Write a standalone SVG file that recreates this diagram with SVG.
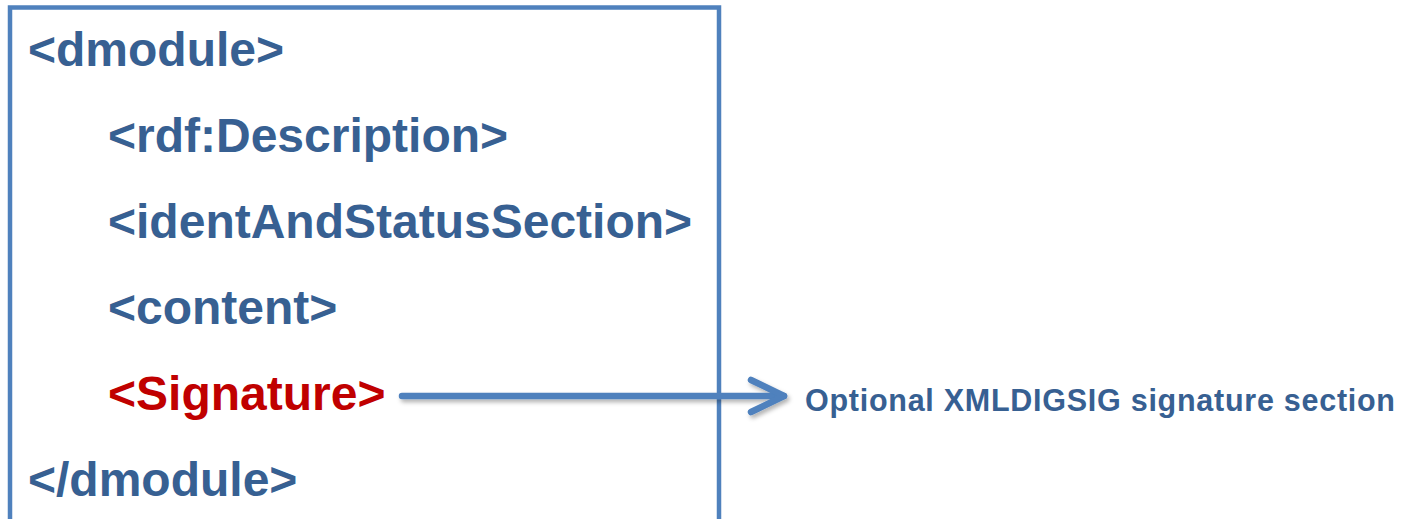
<svg xmlns="http://www.w3.org/2000/svg" width="1408" height="519" viewBox="0 0 1408 519">
  <style>
    .tag { font-family: "Liberation Sans", Arial, sans-serif; font-weight: bold; font-size: 48px; fill: #376092; }
    .sig { fill: #C00000; }
    .note { font-family: "Liberation Sans", Arial, sans-serif; font-weight: bold; font-size: 30.5px; fill: #376092; }
    .frame { fill: #FFFFFF; stroke: #4F81BD; stroke-width: 4.5; }
    .conn { fill: none; stroke: #4F81BD; stroke-width: 6.5; stroke-linecap: round; stroke-linejoin: round; }
  </style>
  <defs>
    <filter id="shadow" filterUnits="userSpaceOnUse" x="380" y="360" width="440" height="70">
      <feDropShadow dx="2" dy="3" stdDeviation="2" flood-color="#000000" flood-opacity="0.3"/>
    </filter>
    <marker id="chevron" markerUnits="userSpaceOnUse" markerWidth="50" markerHeight="50" refX="40" refY="25" orient="auto">
      <path d="M7 9 L40 25 L7 41" fill="none" stroke="#4F81BD" stroke-width="6.5" stroke-linecap="round" stroke-linejoin="round"/>
    </marker>
  </defs>

  <rect width="1408" height="519" fill="#FFFFFF"/>

  <!-- document frame -->
  <g id="dmodule-frame">
    <rect class="frame" x="10" y="7.5" width="709" height="530"/>
  </g>

  <!-- element tree -->
  <g id="dmodule-open"><text class="tag" x="28" y="66">&lt;dmodule&gt;</text></g>
  <g id="rdf-description"><text class="tag" x="108" y="152">&lt;rdf:Description&gt;</text></g>
  <g id="ident-status"><text class="tag" x="108" y="238">&lt;identAndStatusSection&gt;</text></g>
  <g id="content"><text class="tag" x="108" y="324">&lt;content&gt;</text></g>
  <g id="signature"><text class="tag sig" x="108" y="410">&lt;Signature&gt;</text></g>
  <g id="dmodule-close"><text class="tag" x="28" y="496">&lt;/dmodule&gt;</text></g>

  <!-- annotation -->
  <g id="signature-note"><text class="note" x="805" y="411" textLength="590" lengthAdjust="spacing">Optional XMLDIGSIG signature section</text></g>

  <!-- connectors -->
  <g id="connectors" filter="url(#shadow)">
    <path class="conn" d="M402 396 L784 396" marker-end="url(#chevron)"/>
  </g>
</svg>
